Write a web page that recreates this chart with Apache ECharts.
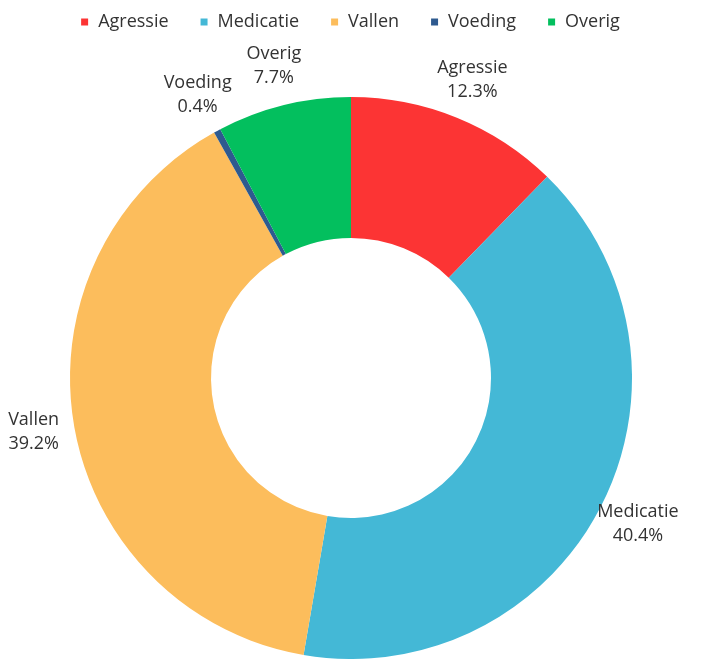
<!DOCTYPE html>
<html>
<head>
<meta charset="utf-8">
<script src="https://cdn.jsdelivr.net/npm/echarts@6/dist/echarts.min.js"></script>
<style>
  html, body { margin: 0; padding: 0; background: #fff; }
  #main { width: 701px; height: 659px; }
</style>
</head>
<body>
<div id="main"></div>
<script>
// categorieën en aandelen (%)
var categories = ['Agressie', 'Medicatie', 'Vallen', 'Voeding', 'Overig'];
var shares = [12.3, 40.4, 39.2, 0.4, 7.7];
var colors = ['#fc3434', '#44b8d6', '#fcbd5c', '#2e5a8f', '#03bf5e'];

var chart = echarts.init(document.getElementById('main'));

var cx = 351, cy = 378, labelR = 322;
var total = shares.reduce(function (a, b) { return a + b; }, 0);

function midAngle(i) {
  var before = 0;
  for (var k = 0; k < i; k++) before += shares[k];
  return (before + shares[i] / 2) / total * Math.PI * 2;
}

var option = {
  color: colors,
  textStyle: { fontFamily: 'Open Sans' },
  legend: {
    top: 8,
    left: 'center',
    icon: 'rect',
    itemWidth: 7,
    itemHeight: 7,
    itemGap: 32,
    textStyle: {
      fontFamily: 'Open Sans',
      fontSize: 18,
      color: '#333',
      padding: [0, 0, 0, 5]
    },
    data: categories
  },
  series: [
    {
      type: 'pie',
      center: [cx, cy],
      radius: [140, 281],
      startAngle: 90,
      clockwise: true,
      avoidLabelOverlap: false,
      label: {
        show: true,
        position: 'outside',
        formatter: '{b}\n{c}%',
        fontFamily: 'Open Sans',
        fontSize: 18,
        lineHeight: 24,
        color: '#333'
      },
      labelLine: { show: false },
      labelLayout: function (params) {
        var a = midAngle(params.dataIndex);
        return {
          x: cx + labelR * Math.sin(a),
          y: cy - labelR * Math.cos(a),
          align: 'center',
          verticalAlign: 'middle'
        };
      },
      emphasis: { disabled: true },
      data: categories.map(function (name, i) {
        return { name: name, value: shares[i] };
      })
    }
  ]
};

chart.setOption(option);
</script>
</body>
</html>
